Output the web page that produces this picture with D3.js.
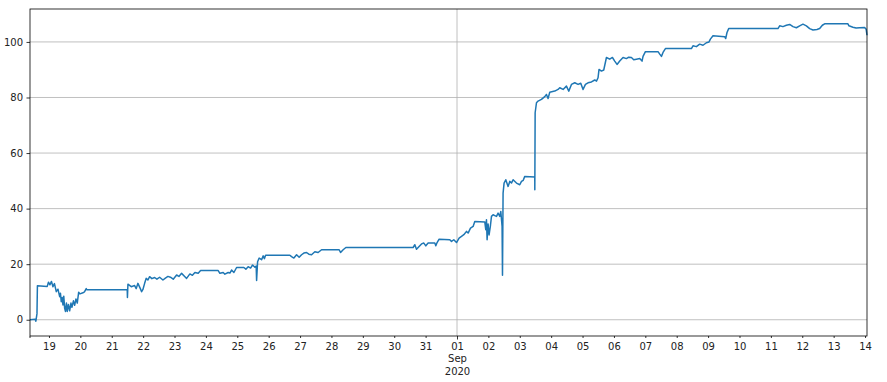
<!DOCTYPE html>
<html>
<head>
<meta charset="utf-8">
<script src="https://cdn.jsdelivr.net/npm/d3@7"></script>
<style>
  body { margin: 0; background: #fff; }
  svg { display: block; }
  text { font-family: "DejaVu Sans", sans-serif; font-size: 10px; fill: #222; }
</style>
</head>
<body>
<svg id="chart" width="887" height="382"></svg>
<script>
// readings (2020, local time)
const times = [
  "08-18 09:30", "08-18 13:30", "08-18 14:00", "08-18 14:50", "08-18 15:10", "08-18 22:40",
  "08-18 23:37", "08-19 00:46", "08-19 01:55", "08-19 03:03", "08-19 04:12", "08-19 05:35",
  "08-19 06:53", "08-19 08:11", "08-19 08:47", "08-19 09:24", "08-19 10:05", "08-19 10:42",
  "08-19 11:19", "08-19 12:00", "08-19 12:36", "08-19 13:22", "08-19 13:59", "08-19 14:54",
  "08-19 15:49", "08-19 16:49", "08-19 17:34", "08-19 18:43", "08-19 19:38", "08-19 20:38",
  "08-19 21:38", "08-19 22:42", "08-19 23:42", "08-20 01:59", "08-20 03:08", "08-20 04:30",
  "08-20 04:52", "08-21 11:51", "08-21 12:00", "08-21 12:23", "08-21 14:54", "08-21 17:30",
  "08-21 18:43", "08-21 20:01", "08-21 21:47", "08-21 22:51", "08-21 23:51", "08-22 01:09",
  "08-22 02:22", "08-22 03:40", "08-22 04:58", "08-22 06:43", "08-22 08:47", "08-22 10:32",
  "08-22 12:36", "08-22 15:08", "08-22 17:02", "08-22 18:58", "08-22 20:52", "08-22 23:01",
  "08-23 01:36", "08-23 03:22", "08-23 05:25", "08-23 07:57", "08-23 09:14", "08-23 11:46",
  "08-23 13:41", "08-23 15:36", "08-23 18:07", "08-23 19:57", "08-24 09:24", "08-24 10:42",
  "08-24 13:13", "08-24 14:31", "08-24 17:02", "08-24 18:20", "08-24 19:38", "08-24 21:24",
  "08-24 23:28", "08-25 05:02", "08-25 06:34", "08-25 08:19", "08-25 10:10", "08-25 11:41",
  "08-25 13:28", "08-25 14:27", "08-25 14:46", "08-25 15:31", "08-25 16:44", "08-25 18:35",
  "08-25 19:48", "08-25 20:43", "08-25 21:38", "08-26 16:12", "08-26 17:30", "08-26 19:16",
  "08-26 21:20", "08-26 23:18", "08-27 01:09", "08-27 02:54", "08-27 04:58", "08-27 06:43",
  "08-27 08:47", "08-27 11:18", "08-27 13:49", "08-27 16:26", "08-28 05:53", "08-28 06:58",
  "08-28 08:57", "08-28 11:01", "08-30 14:27", "08-30 15:45", "08-30 17:02", "08-30 19:02",
  "08-30 20:52", "08-30 22:38", "08-31 00:09", "08-31 01:55", "08-31 07:02", "08-31 07:48",
  "08-31 08:47", "08-31 10:19", "08-31 18:30", "08-31 19:48", "08-31 21:33", "08-31 23:37",
  "09-01 01:36", "09-01 03:26", "09-01 05:12", "09-01 07:16", "09-01 08:30", "09-01 10:19",
  "09-01 12:19", "09-01 13:36", "09-01 21:15", "09-01 22:00", "09-01 22:32", "09-01 23:01",
  "09-01 23:46", "09-02 00:32", "09-02 01:36", "09-02 02:22", "09-02 03:36", "09-02 04:54",
  "09-02 06:12", "09-02 07:25", "09-02 08:43", "09-02 09:29", "09-02 10:28", "09-02 10:47",
  "09-02 11:14", "09-02 12:00", "09-02 13:18", "09-02 15:03", "09-02 16:21", "09-02 17:39",
  "09-02 18:53", "09-02 21:29", "09-03 00:00", "09-03 01:18", "09-03 02:40", "09-03 03:49",
  "09-03 11:28", "09-03 11:30", "09-03 11:45", "09-03 12:46", "09-03 13:59", "09-03 16:35",
  "09-03 19:06", "09-03 20:24", "09-03 21:38", "09-03 22:55", "09-04 02:45", "09-04 05:17",
  "09-04 06:34", "09-04 09:06", "09-04 11:41", "09-04 13:28", "09-04 15:31", "09-04 18:03",
  "09-04 20:34", "09-04 22:38", "09-05 00:23", "09-05 02:13", "09-05 04:12", "09-05 06:48",
  "09-05 09:20", "09-05 10:38", "09-05 11:51", "09-05 12:36", "09-05 14:27", "09-05 16:12",
  "09-05 18:16", "09-05 20:47", "09-05 22:51", "09-06 00:36", "09-06 02:22", "09-06 04:26",
  "09-06 06:58", "09-06 09:33", "09-06 11:18", "09-06 13:22", "09-06 15:08", "09-06 17:12",
  "09-06 19:43", "09-06 21:29", "09-06 22:15", "09-07 00:04", "09-07 09:43", "09-07 11:01",
  "09-07 12:19", "09-07 13:32", "09-07 15:22", "09-08 11:14", "09-08 12:27", "09-08 15:03",
  "09-08 17:34", "09-08 20:07", "09-08 22:42", "09-09 00:42", "09-09 01:45", "09-09 03:45",
  "09-09 12:42", "09-09 13:28", "09-09 14:27", "09-09 15:45", "09-11 05:25", "09-11 06:43",
  "09-11 09:14", "09-11 11:51", "09-11 14:22", "09-11 16:54", "09-11 19:29", "09-11 22:00",
  "09-12 00:32", "09-12 03:08", "09-12 05:40", "09-12 08:11", "09-12 11:14", "09-12 13:18",
  "09-12 15:22", "09-12 17:07", "09-13 10:55", "09-13 11:41", "09-13 14:45", "09-13 17:12",
  "09-13 19:53", "09-13 23:41", "09-14 00:50", "09-14 01:30"
];

const values = [
  0.0, 0.2, -0.5, 2.2, 12.2, 12.0,
  13.5, 12.6, 13.8, 11.9, 13.0, 10.1,
  11.0, 8.3, 9.5, 6.5, 8.0, 5.3,
  8.5, 4.1, 3.0, 6.0, 3.0, 5.5,
  3.2, 6.0, 4.5, 6.8, 5.2, 7.5,
  6.0, 9.9, 9.3, 9.7, 10.0, 11.2,
  10.8, 10.8, 8.0, 12.8, 11.9, 12.3,
  11.2, 13.1, 11.3, 10.1, 10.9, 13.1,
  14.9, 14.3, 15.5, 14.8, 15.2, 14.6,
  15.3, 14.3, 15.0, 15.6, 15.3, 14.6,
  16.1, 15.6, 16.7, 15.5, 14.9, 16.5,
  16.0, 17.0, 16.7, 17.7, 17.7, 16.7,
  17.0, 16.4, 17.0, 16.8, 17.9, 17.0,
  18.8, 18.8, 18.2, 19.1, 18.6, 19.7,
  18.9, 19.3, 14.1, 20.9, 22.2, 21.6,
  23.0, 22.0, 23.2, 23.2, 22.7, 22.2,
  23.4, 22.5, 23.4, 24.0, 24.2, 23.6,
  23.4, 24.5, 24.2, 25.2, 25.2, 24.2,
  25.2, 26.0, 26.0, 27.0, 25.4, 26.4,
  27.3, 27.6, 26.6, 27.6, 27.6, 26.6,
  27.8, 29.0, 28.8, 28.2, 28.8, 27.8,
  29.4, 30.0, 30.6, 31.8, 31.2, 33.0,
  33.6, 35.4, 35.2, 32.4, 36.0, 28.8,
  34.5, 30.5, 34.0, 37.2, 37.8, 37.5,
  37.2, 38.4, 37.2, 39.0, 33.6, 16.0,
  45.6, 49.2, 50.4, 48.0, 49.8, 49.2,
  50.4, 49.2, 48.6, 49.8, 50.2, 51.6,
  51.4, 46.8, 74.5, 78.1, 78.7, 79.3,
  80.3, 81.1, 79.6, 81.9, 82.3, 82.9,
  83.5, 82.9, 84.1, 82.3, 84.7, 85.3,
  84.7, 85.1, 82.9, 84.7, 85.3, 85.6,
  86.3, 85.9, 87.1, 90.1, 89.5, 89.9,
  94.4, 93.8, 94.4, 93.1, 91.9, 93.1,
  94.4, 94.0, 94.5, 94.4, 93.6, 93.8,
  94.0, 93.1, 94.8, 96.5, 96.5, 95.6,
  94.8, 96.2, 97.6, 97.6, 98.6, 98.3,
  99.2, 98.8, 99.7, 100.0, 101.0, 102.2,
  101.9, 101.2, 103.4, 104.8, 104.8, 105.8,
  105.5, 106.0, 106.3, 105.5, 105.1, 105.8,
  106.4, 105.8, 104.8, 104.3, 104.5, 104.8,
  106.0, 106.5, 106.5, 105.8, 105.3, 105.0,
  105.1, 105.2, 104.6, 102.4
];

const yTickValues = [0, 20, 40, 60, 80, 100];
const monthLabel = ["Sep", "2020"];

const parseTime = d3.timeParse("%Y-%m-%d %H:%M");
const data = times.map((t, i) => ({ date: parseTime("2020-" + t), value: values[i] }));

const width = 887;
const height = 382;
const margin = { top: 9, right: 20, bottom: 46, left: 30 };
const innerBottom = height - margin.bottom;
const innerRight = width - margin.right;

const svg = d3.select("#chart");

const x = d3.scaleTime()
    .domain(d3.extent(data, (d) => d.date))
    .range([margin.left, innerRight]);

// matplotlib-style 5% margins on the value range
const [lo, hi] = d3.extent(data, (d) => d.value);
const pad = (hi - lo) * 0.05;
const y = d3.scaleLinear()
    .domain([lo - pad, hi + pad])
    .range([innerBottom, margin.top]);

const days = d3.timeDay.range(d3.timeDay.ceil(x.domain()[0]), x.domain()[1]);
const monthStart = days.find((d) => d.getDate() === 1);

// grid
svg.append("g")
    .selectAll("line")
    .data(yTickValues)
    .join("line")
    .attr("x1", margin.left)
    .attr("x2", innerRight)
    .attr("y1", (d) => y(d))
    .attr("y2", (d) => y(d))
    .attr("stroke", "#b0b0b0")
    .attr("stroke-width", 0.8);

svg.append("line")
    .attr("x1", x(monthStart))
    .attr("x2", x(monthStart))
    .attr("y1", margin.top)
    .attr("y2", innerBottom)
    .attr("stroke", "#b0b0b0")
    .attr("stroke-width", 0.8);

// series
const line = d3.line()
    .x((d) => x(d.date))
    .y((d) => y(d.value));

svg.append("path")
    .datum(data)
    .attr("fill", "none")
    .attr("stroke", "#1f77b4")
    .attr("stroke-width", 1.5)
    .attr("stroke-linejoin", "round")
    .attr("d", line);

// y axis
const yAxis = svg.append("g")
    .attr("transform", `translate(${margin.left},0)`)
    .call(d3.axisLeft(y).tickValues(yTickValues).tickSize(3.5).tickPadding(3.5));
yAxis.select(".domain").remove();
yAxis.selectAll("line").attr("stroke", "#000").attr("stroke-width", 0.8);
yAxis.selectAll("text").attr("font-size", 10).attr("font-family", "DejaVu Sans").attr("fill", "#222");

// x axis: day ticks (minor) plus the month tick (major)
const xAxis = svg.append("g")
    .attr("transform", `translate(0,${innerBottom})`)
    .call(d3.axisBottom(x)
        .tickValues(days)
        .tickSize(2)
        .tickPadding(5)
        .tickFormat((d) => d3.timeFormat("%d")(d)));
xAxis.select(".domain").remove();
xAxis.selectAll("line").attr("stroke", "#000").attr("stroke-width", 0.8);
xAxis.selectAll("text").attr("font-size", 10).attr("font-family", "DejaVu Sans").attr("fill", "#222");

xAxis.selectAll(".tick")
    .filter((d) => +d === +monthStart)
    .select("line")
    .attr("y2", 3.5);

xAxis.selectAll(".tick")
    .filter((d) => +d === +monthStart)
    .select("text")
    .selectAll("tspan")
    .data(monthLabel)
    .join("tspan")
    .attr("x", 0)
    .attr("dy", "1.23em")
    .text((d) => d);

// small tick at the first sample
xAxis.append("line")
    .attr("x1", x.range()[0])
    .attr("x2", x.range()[0])
    .attr("y1", 0)
    .attr("y2", 2)
    .attr("stroke", "#000")
    .attr("stroke-width", 0.8);

// frame
svg.append("rect")
    .attr("x", margin.left)
    .attr("y", margin.top)
    .attr("width", innerRight - margin.left)
    .attr("height", innerBottom - margin.top)
    .attr("fill", "none")
    .attr("stroke", "#000")
    .attr("stroke-width", 0.8);
</script>
</body>
</html>
